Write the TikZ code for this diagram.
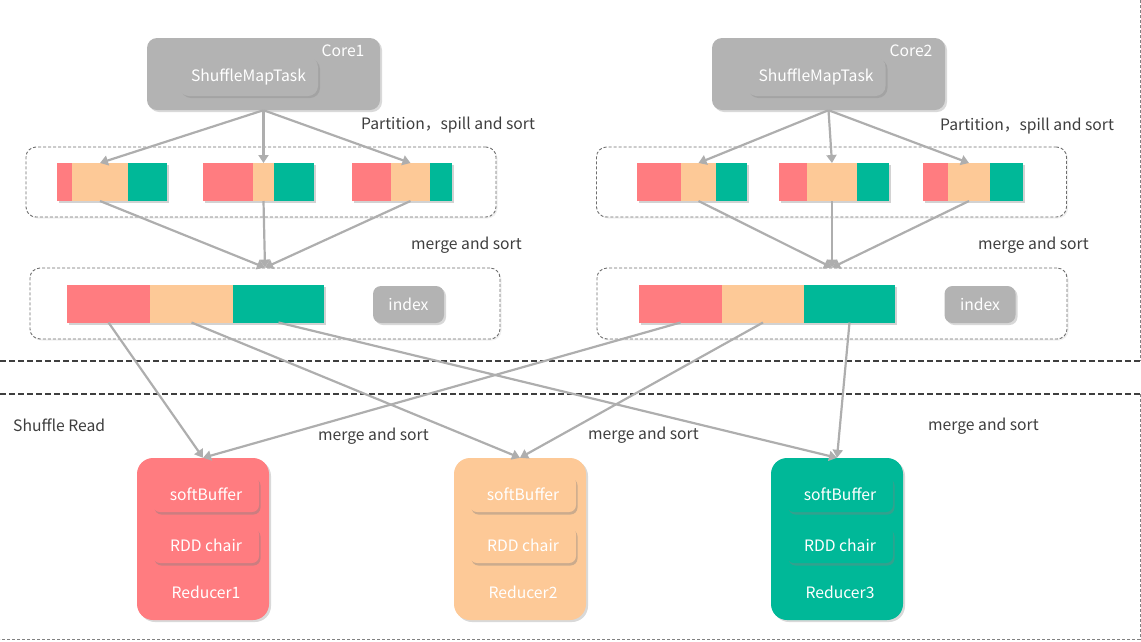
\documentclass[tikz,border=0pt]{standalone}
\usepackage{fontspec}
\setmainfont{Noto Sans CJK SC}
\usetikzlibrary{arrows.meta,positioning,shadows}
\definecolor{cred}{HTML}{FF7C80}
\definecolor{cpeach}{HTML}{FDC997}
\definecolor{cgreen}{HTML}{00B898}
\definecolor{cgray}{HTML}{B3B3B3}
\definecolor{cline}{HTML}{AEAEAE}
\definecolor{ink}{HTML}{3E3E3E}
\definecolor{cdash}{HTML}{6E6E6E}
\tikzset{txt/.style={font=\fontsize{15.7}{18}\selectfont,text=ink,inner sep=0pt},wtxt/.style={txt,text=white},shd/.style={drop shadow={opacity=.3,shadow xshift=2pt,shadow yshift=-2pt}},core/.style={shd,fill=cgray,rounded corners=10pt,minimum width=233pt,minimum height=72pt},task/.style={core,wtxt,minimum width=139pt,minimum height=39pt},grp/.style={draw=cdash,line width=0.9pt,dash pattern=on 3pt off 2pt,rounded corners=10pt,minimum width=470pt,minimum height=70pt,fill=white,drop shadow={opacity=.12,shadow xshift=1.5pt,shadow yshift=-1.5pt}},seg/.style={inner sep=0pt,outer sep=0pt,minimum height=38pt,drop shadow={opacity=.35,shadow xshift=2pt,shadow yshift=-2pt}},idx/.style={task,rounded corners=8pt,minimum width=71pt,minimum height=37pt},reducer/.style={shd,rounded corners=16pt,minimum width=132pt,minimum height=162pt},inbox/.style={wtxt,drop shadow={opacity=.4,shadow xshift=1.5pt,shadow yshift=-2.5pt},rounded corners=7pt,minimum width=106pt,minimum height=36pt},arr/.style={-{Triangle[length=8pt,width=10pt]},line width=2.2pt,draw=cline},sep/.style={draw=ink,line width=1.4pt,dash pattern=on 6pt off 3pt},frame/.style={draw=gray,line width=0.8pt,dash pattern=on 3pt off 2pt}}

\begin{document}
\begin{tikzpicture}[x=1pt,y=-1pt]
\useasboundingbox (0,0) rectangle (1141,641);
% map side
\node[core] (core1) at (263.5,74) {};
\node[core] (core2) at (828.5,74) {};
\node[task] (task1) at (248.5,76.5) {ShuffleMapTask};
\node[task] (task2) at (816,76.5) {ShuffleMapTask};
\node[wtxt] (lbl1) at (343,51) {Core1};
\node[wtxt] (lbl2) at (911,51) {Core2};
\node[txt,anchor=west] (part1) at (361,125) {Partition，spill and sort};
\node[txt,anchor=west] (part2) at (940,126) {Partition，spill and sort};
\node[grp] (grpL) at (261,182) {};
\node[grp] (grpR) at (831.5,182) {};
\node[grp,minimum height=71pt] (mrgL) at (265,303.5) {};
\node[grp,minimum height=71pt] (mrgR) at (832,303.5) {};
\node[txt,anchor=west] (ms1) at (411,245) {merge and sort};
\node[txt,anchor=west] (ms2) at (978,245) {merge and sort};
% bars: name/left/y/red/peach/green
\foreach \n/\x/\y/\ra/\pa/\ga in {a/57/182/15/56/39,b/203/182/50/21/40,c/352/182/39/39/22,d/637/182/44/35/31,e/779/182/28/50/32,f/923/182/25/42/33,g/67/303.5/83/83/91,h/639/303.5/83/82/91}{
  \node[seg,fill=cred,minimum width=\ra pt,anchor=west] (\n1) at (\x,\y) {};
  \node[seg,fill=cpeach,minimum width=\pa pt,right=0pt of \n1] (\n2) {};
  \node[seg,fill=cgreen,minimum width=\ga pt,right=0pt of \n2] (\n3) {};
}
\node[idx] (idxL) at (408.5,304.5) {index};
\node[idx] (idxR) at (980,304.5) {index};
\foreach \t in {a2,b2,c2}{\draw[arr] (core1.south) -- (\t.north); \draw[arr] (\t.south) -- (mrgL.north);}
\foreach \t in {d2,e2,f2}{\draw[arr] (core2.south) -- (\t.north); \draw[arr] (\t.south) -- (mrgR.north);}
% borders
\draw[sep] (0,361) -- (1141,361);
\draw[sep] (0,394) -- (1141,394);
\draw[frame] (1140,0) -- (1140,361);
\draw[frame] (1140,394) -- (1140,639) -- (0,639);
% reduce side
\node[txt,anchor=west] (read) at (13,425) {Shuffle Read};
\node[txt,anchor=west] (ms3) at (318,436) {merge and sort};
\node[txt,anchor=west] (ms4) at (588,435) {merge and sort};
\node[txt,anchor=west] (ms5) at (928,426) {merge and sort};
\foreach \i/\x/\c in {1/203/cred,2/520/cpeach,3/837/cgreen}{
  \node[reducer,fill=\c] (red\i) at (\x,539) {};
  \node[inbox,fill=\c] (buf\i) at (\x+3,494) {softBuffer};
  \node[inbox,fill=\c] (rdd\i) at (\x+3,545) {RDD chair};
  \node[wtxt] (name\i) at (\x+3,592) {Reducer\i};
}
\foreach \s/\r in {g1/red1,g2/red2,g3/red3,h1/red1,h2/red2,h3/red3}{\draw[arr] (\s.south) -- (\r.north);}
\end{tikzpicture}
\end{document}
